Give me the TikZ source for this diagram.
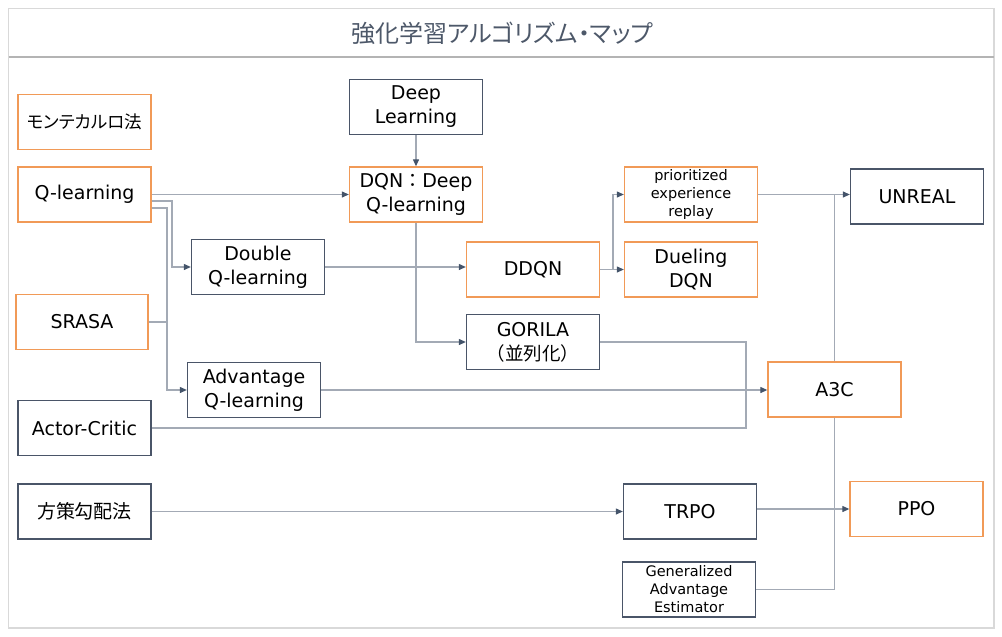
\documentclass[tikz,border=0pt]{standalone}
\usepackage{fontspec}
\setmainfont{DejaVu Sans}
\newfontfamily\jp{Noto Sans CJK JP}
\newfontfamily\jpp{Noto Sans CJK JP}[RawFeature=+palt]
\usetikzlibrary{arrows.meta,positioning,calc}
\definecolor{orangeb}{HTML}{F19A57}
\definecolor{darkb}{HTML}{4A5568}
\definecolor{linec}{HTML}{A3AAB5}
\definecolor{arrowc}{HTML}{44546A}
\definecolor{framec}{HTML}{D9D9D9}
\definecolor{sepc}{HTML}{B4B4B4}
\definecolor{titlec}{HTML}{4D5869}
\tikzset{
  box/.style={draw, line width=1.3pt, minimum width=133pt, minimum height=55pt, inner sep=0pt, align=center, font=\fontsize{19}{24}\selectfont, text=black},
  obox/.style={box, draw=orangeb},
  dbox/.style={box, draw=darkb},
  small/.style={font=\fontsize{14.5}{18}\selectfont},
  conn/.style={draw=linec, line width=1.1pt},
  arr/.style={conn, -{Triangle[length=7pt,width=6pt,color=arrowc]}},
}
\begin{document}
\begin{tikzpicture}[x=1pt,y=-1pt]
\useasboundingbox (0,0) rectangle (1002,637);
% frame
\draw[framec, line width=1.5pt] (8.5,8.5) rectangle (994,628);
\draw[sepc, line width=1.3pt] (8.5,57) -- (994,57);
\node[font=\jpp\fontsize{24}{28}\selectfont, text=titlec] (title) at (502,33) {強化学習アルゴリズム・マップ};
% boxes
\node[obox] (mc) at (84.5,122) {\jpp\fontsize{17.5}{22}\selectfont モンテカルロ法};
\node[obox] (ql) at (84.5,194.5) {Q-learning};
\node[dbox] (dl) at (416,107) {Deep\\Learning};
\node[obox] (dqn) at (416,194.5) {DQN{\jp ：}Deep\\Q-learning};
\node[dbox] (dbl) at (258,267) {Double\\Q-learning};
\node[obox, minimum width=132pt] (sr) at (82,322) {SRASA};
\node[obox] (ddqn) at (533,269.5) {DDQN};
\node[obox, small] (per) at (691,194.5) {prioritized\\experience\\replay};
\node[obox] (duel) at (691,269.5) {Dueling\\DQN};
\node[dbox] (unreal) at (917,196.5) {UNREAL};
\node[dbox] (gor) at (533,342) {GORILA\\{\jp\fontsize{18.5}{22}\selectfont （並列化）}};
\node[dbox] (adv) at (254,390) {Advantage\\Q-learning};
\node[dbox] (ac) at (84.5,428) {Actor-Critic};
\node[dbox] (pg) at (84.5,511.5) {\jp\fontsize{19}{22}\selectfont 方策勾配法};
\node[obox] (a3c) at (834.5,389.5) {A3C};
\node[dbox] (trpo) at (690,511.5) {TRPO};
\node[obox] (ppo) at (916.5,509) {PPO};
\node[dbox, small] (gae) at (689,589.5) {Generalized\\Advantage\\Estimator};
% connectors
\draw[arr] (dl.south) -- (dqn.north);
\draw[arr] (ql.east) -- (dqn.west);
\draw[arr] (ql.east |- 0,201) -- (172,201) |- (dbl.west);
\draw[arr] (ql.east |- 0,208) -- (167,208) |- (adv.west);
\draw[conn] (sr.east) -- (167,322);
\draw[arr] (dbl.east) -- (ddqn.west |- dbl.east);
\draw[arr] (dqn.south) |- (gor.west);
\draw[arr] (ddqn.east) -- (613,269.5) |- (per.west);
\draw[arr] (ddqn.east) -- (duel.west);
\draw[arr] (per.east) -- (unreal.west |- per.east);
\draw[conn] (a3c.north) -- (a3c.north |- per.east);
\draw[conn] (gor.east) -- (746,342) -- (746,428) -- (ac.east);
\draw[arr] (adv.east) -- (a3c.west |- adv.east);
\draw[arr] (pg.east) -- (trpo.west);
\draw[arr] (trpo.east |- ppo.west) -- (ppo.west);
\draw[conn] (a3c.south) |- (gae.east);
\end{tikzpicture}
\end{document}
